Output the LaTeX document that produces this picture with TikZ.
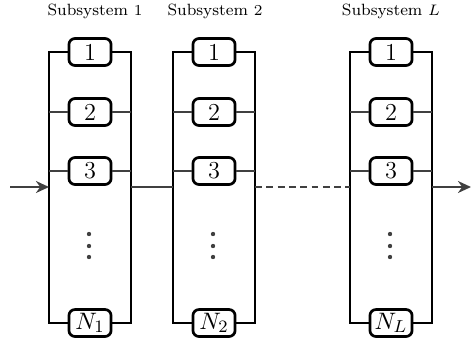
\documentclass[tikz,border=0pt]{standalone}
\usetikzlibrary{arrows.meta}
\begin{document}
\begin{tikzpicture}[x=0.46pt, y=-0.46pt,
    unit/.style = {draw, line width=1.25pt, rounded corners=2.8pt, minimum width=19.4pt, minimum height=12.4pt, inner sep=1pt, fill=white, font=\fontsize{11.2pt}{13pt}\selectfont},
    rail/.style = {draw, line width=1.25pt},
    wire/.style = {draw=darkgray, line width=1.15pt},
    flow/.style = {wire, -{Stealth[length=6pt, width=5.5pt]}}]
    \useasboundingbox (0,0) rectangle (471,346);

    \foreach \c/\n/\t in {90/1/95, 214/2/215, 391/L/391} {
        \node (title\n) at (\t,11) {\fontsize{7.5pt}{9pt}\selectfont Subsystem $\n$};

        \draw[rail] (\c-19,52) -| (\c-41,323) -- (\c-19,323);
        \draw[rail] (\c+19,52) -| (\c+41,323) -- (\c+19,323);

        \node[unit] (u\n-1) at (\c,52) {1};
        \node[unit] (u\n-2) at (\c,112) {2};
        \node[unit] (u\n-3) at (\c,171) {3};
        \node[unit] (u\n-N) at (\c,323) {$N_\n$};

        \draw[wire] (\c-41,112) -- (u\n-2.west);
        \draw[wire] (u\n-2.east) -- (\c+41,112);
        \draw[wire] (\c-41,171) -- (u\n-3.west);
        \draw[wire] (u\n-3.east) -- (\c+41,171);

        \coordinate (in\n) at (\c-41,187);
        \coordinate (out\n) at (\c+41,187);

        \foreach \d in {234,246,257}
            \fill[darkgray] (\c-1,\d) circle[radius=1pt];
    }

    \coordinate (start) at (10,187);
    \coordinate (end) at (471,187);

    \draw[flow] (start) -- (in1);
    \draw[wire] (out1) -- (in2);
    \draw[wire, dash pattern=on 3.2pt off 2pt] (out2) -- (inL);
    \draw[flow] (outL) -- (end);
\end{tikzpicture}
\end{document}
